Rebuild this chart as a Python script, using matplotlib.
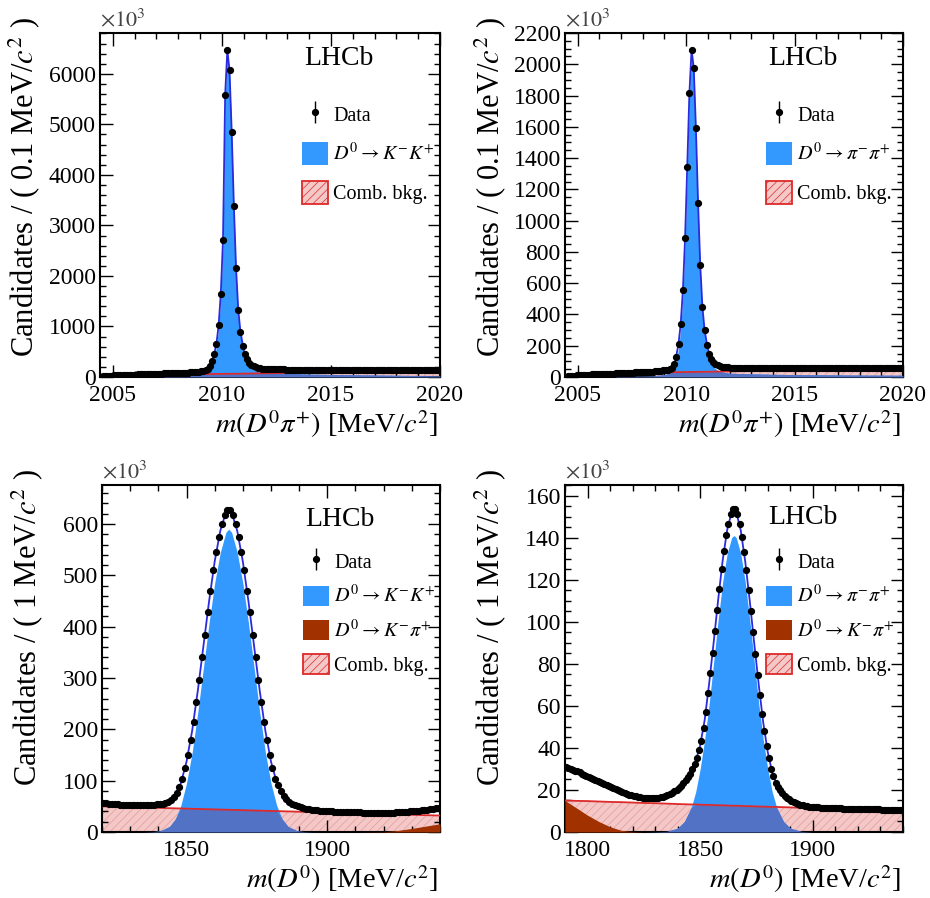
import numpy as np
import matplotlib
matplotlib.use('Agg')
import matplotlib.pyplot as plt
from matplotlib.patches import Patch
from matplotlib.ticker import MultipleLocator
from matplotlib.container import ErrorbarContainer
from matplotlib.legend_handler import HandlerErrorbar

plt.rcParams['font.family'] = ['Liberation Serif', 'DejaVu Serif']
plt.rcParams['mathtext.fontset'] = 'stix'
plt.rcParams['hatch.linewidth'] = 0.5

# ---------------- data (values in units of 10^3 per bin) ----------------
# D*+ -> D0 pi+ mass, 0.1 MeV bins starting at threshold
dst_bin_lo = 2004.4
dst_bin_w = 0.1

kk_dst_data = [
    5, 14, 19, 23, 26, 29,
    31, 33, 35, 37, 39, 41, 43, 44, 46, 48,
    49, 51, 52, 54, 55, 57, 58, 60, 61, 63,
    64, 66, 67, 69, 70, 72, 73, 75, 77, 78,
    80, 82, 84, 86, 88, 91, 94, 97, 101, 105,
    110, 118, 135, 165, 225, 320, 460, 660, 1020, 1650,
    2710, 5590, 6470, 6070, 4850, 3380, 2150, 1330, 900, 620,
    450, 350, 285, 240, 210, 192, 180, 172, 166, 162,
    159, 157, 156, 154, 153, 152, 151, 150, 149, 148,
    148, 147, 146, 146, 145, 145, 144, 144, 143, 143,
    143, 142, 142, 142, 142, 141, 141, 141, 141, 141,
    141, 141, 141, 141, 141, 141, 141, 141, 141, 141,
    141, 141, 141, 141, 142, 142, 142, 142, 142, 142,
    142, 142, 142, 142, 143, 143, 143, 143, 143, 143,
    143, 143, 143, 144, 144, 144, 144, 144, 144, 144,
    144, 145, 145, 145, 145, 145, 145, 146, 146, 146,
]

pipi_dst_data = [
    2, 5, 7, 8, 9, 10,
    11, 12, 13, 13, 14, 15, 16, 16, 17, 18,
    18, 19, 20, 20, 21, 22, 22, 23, 24, 24,
    25, 25, 26, 27, 27, 28, 29, 29, 30, 31,
    31, 32, 33, 34, 35, 36, 37, 38, 40, 42,
    44, 47, 52, 60, 80, 125, 214, 342, 556, 887,
    1346, 1816, 2094, 1977, 1592, 1111, 716, 449, 300, 205,
    150, 115, 95, 82, 74, 69, 66, 64, 62, 61,
    60, 60, 59, 59, 59, 58, 58, 58, 58, 58,
    58, 58, 57, 57, 57, 57, 57, 57, 57, 57,
    57, 57, 57, 57, 57, 57, 57, 57, 57, 57,
    57, 57, 57, 57, 57, 57, 57, 57, 57, 57,
    57, 57, 57, 57, 57, 57, 58, 58, 58, 58,
    58, 58, 58, 58, 58, 58, 58, 58, 58, 58,
    58, 58, 58, 58, 58, 58, 58, 58, 58, 58,
    58, 58, 58, 58, 59, 59, 59, 59, 59, 59,
]

dst_fit_x = [2004.41, 2004.5, 2004.7, 2005, 2006, 2007, 2008, 2008.5, 2009, 2009.3,
             2009.5, 2009.65, 2009.75, 2009.85, 2009.95, 2010.05, 2010.15, 2010.25,
             2010.35, 2010.45, 2010.55, 2010.65, 2010.75, 2010.85, 2011.0, 2011.2,
             2011.5, 2012, 2013, 2014, 2016, 2018, 2020]

kk_dst_total = [0, 10, 21, 30, 48, 63, 79, 89, 108, 150, 270, 460, 660, 1020, 1650,
                2710, 5590, 6470, 6070, 4850, 3380, 2150, 1330, 900, 530, 310, 200,
                160, 148, 143, 141, 143, 146]
kk_dst_comb = [0, 8, 15, 22, 33, 42, 50, 53, 56, 58, 59, 60, 60, 61, 61, 62, 62, 63,
               63, 64, 64, 65, 65, 66, 67, 68, 70, 74, 80, 86, 98, 110, 122]
kk_dst_sig = [0, 2, 6, 8, 15, 21, 29, 36, 52, 92, 211, 400, 600, 959, 1589, 2648, 5528,
              6407, 6007, 4786, 3316, 2085, 1265, 834, 463, 242, 130, 86, 68, 57, 43,
              33, 24]

pipi_dst_total = [0, 3, 7, 10, 18, 25, 31, 35, 44, 56, 100, 214, 342, 556, 887, 1346,
                  1816, 2094, 1977, 1592, 1111, 716, 449, 300, 178, 105, 72, 60, 58,
                  57, 57, 58, 59]
pipi_dst_comb = [0, 3, 6, 9, 15, 20, 25, 27, 29, 30, 31, 31, 31, 31, 32, 32, 32, 32,
                 32, 32, 33, 33, 33, 33, 33, 34, 35, 36, 38, 40, 43, 46, 48]
pipi_dst_sig = [0, 0, 1, 1, 3, 5, 6, 8, 15, 26, 69, 183, 311, 525, 855, 1314, 1784,
                2062, 1945, 1560, 1078, 683, 416, 267, 145, 71, 37, 24, 20, 17, 14,
                12, 11]

# D0 mass, 1 MeV bins
kk_d0_bin_lo = 1820
pipi_d0_bin_lo = 1790
d0_bin_w = 1.0

kk_d0_data = [
    56, 56, 55, 55, 54, 54, 53, 53, 53, 52,
    52, 52, 52, 52, 52, 52, 52, 53, 53, 54,
    54, 55, 56, 58, 62, 68, 76, 87, 103, 124,
    150, 180, 215, 254, 296, 340, 384, 428, 470, 510,
    545, 575, 600, 618, 628, 628, 618, 600, 575, 545,
    510, 470, 428, 384, 340, 296, 254, 215, 180, 150,
    124, 103, 92, 80, 71, 64, 59, 55, 52, 50,
    48, 46, 45, 44, 43, 42, 42, 41, 41, 40,
    40, 40, 39, 39, 39, 39, 38, 38, 38, 38,
    38, 38, 37, 37, 37, 37, 37, 37, 37, 37,
    37, 37, 37, 37, 38, 38, 38, 39, 39, 40,
    40, 41, 41, 42, 43, 43, 44, 45, 46, 47,
]

kk_d0_fit_x = [1820, 1825, 1830, 1835, 1838, 1841, 1844, 1846, 1848, 1850, 1852, 1854,
               1856, 1858, 1860, 1862, 1864, 1865, 1866, 1868, 1870, 1872, 1874, 1876,
               1878, 1880, 1882, 1884, 1886, 1889, 1892, 1895, 1900, 1910, 1920, 1925,
               1930, 1935, 1940]
kk_d0_total = [56, 54, 52.5, 52, 53, 54.5, 60, 72, 95, 137, 197, 275, 362, 449, 527,
               587, 623, 630, 623, 587, 527, 449, 362, 275, 197, 137, 97, 75, 61, 51,
               45, 42, 40, 38, 37, 38, 40, 43, 47]
kk_d0_sig = [0, 0, 0, 0.1, 0.7, 3, 11, 25, 52, 95, 155, 233, 320, 407, 485, 545, 584,
             590, 584, 545, 485, 407, 320, 233, 155, 95, 52, 25, 11, 3, 0.7, 0.1, 0,
             0, 0, 0, 0, 0, 0]
kk_d0_comb = [50, 49.3, 48.5, 47.8, 47.3, 46.9, 46.4, 46.1, 45.8, 45.5, 45.2, 44.9,
              44.6, 44.3, 44, 43.7, 43.4, 43.3, 43.1, 42.8, 42.5, 42.2, 41.9, 41.6,
              41.3, 41, 40.7, 40.4, 40.1, 39.7, 39.2, 38.8, 38, 36.5, 35, 34.3, 33.5,
              32.8, 32]
kk_d0_misid = [0] * 34 + [0.5, 3, 7, 11.5, 16]

pipi_d0_data = [
    30.7, 30.4, 30.0, 29.6, 29.2, 28.8, 28.3, 27.8, 27.3, 26.8,
    26.3, 25.8, 25.3, 24.8, 24.3, 23.8, 23.3, 22.8, 22.3, 21.8,
    21.3, 20.8, 20.3, 19.8, 19.4, 19.0, 18.6, 18.2, 17.8, 17.5,
    17.2, 16.9, 16.7, 16.5, 16.3, 16.2, 16.1, 16.0, 16.0, 16.0,
    16.1, 16.3, 16.5, 16.8, 17.2, 17.6, 18.1, 18.7, 19.4, 20.2,
    21.1, 22.1, 23.3, 24.6, 26.1, 27.8, 29.8, 32.2, 35.2, 39.0,
    43.5, 49.5, 57, 66, 75.5, 85, 95.5, 105.5, 115.5, 125,
    133.5, 141, 146.5, 151, 153.5, 153.5, 151, 146.5, 140.5, 133,
    124.5, 115, 105, 95, 84.5, 74.5, 65, 56, 48, 41,
    35, 30, 26.5, 23.5, 21.5, 20, 18.5, 17.3, 16.3, 15.5,
    14.8, 14.2, 13.7, 13.3, 13.0, 12.7, 12.5, 12.3, 12.1, 12.0,
    11.9, 11.8, 11.7, 11.6, 11.6, 11.5, 11.5, 11.4, 11.4, 11.3,
    11.3, 11.2, 11.2, 11.1, 11.1, 11.1, 11.0, 11.0, 11.0, 10.9,
    10.9, 10.9, 10.8, 10.8, 10.8, 10.8, 10.7, 10.7, 10.7, 10.7,
    10.6, 10.6, 10.6, 10.6, 10.6, 10.5, 10.5, 10.5, 10.5, 10.5,
]

pipi_d0_fit_x = [1790, 1795, 1800, 1805, 1810, 1815, 1820, 1825, 1830, 1835, 1840,
                 1843, 1846, 1848, 1850, 1852, 1854, 1856, 1858, 1860, 1862, 1864,
                 1865, 1866, 1868, 1870, 1872, 1874, 1876, 1878, 1880, 1882, 1884,
                 1887, 1890, 1895, 1900, 1910, 1920, 1930, 1940]
pipi_d0_total = [30.9, 28.6, 26.1, 23.6, 21.1, 18.8, 17.1, 16.2, 16.0, 17.0, 20.6,
                 24.0, 28.8, 33.7, 41.2, 53.2, 70.7, 90.2, 110.5, 129.2, 143.7, 152.2,
                 153.5, 152.2, 143.5, 128.7, 110, 89.7, 70, 52, 38, 28.2, 22.5, 17.9,
                 15.1, 12.8, 11.9, 11.3, 10.9, 10.6, 10.5]
pipi_d0_sig = [0, 0, 0, 0, 0, 0, 0, 0, 0.1, 0.3, 1.8, 5, 11.5, 19, 30, 44, 61, 81,
               101, 119, 132.5, 140, 141, 140, 132.5, 119, 101, 81, 61, 44, 30, 19,
               11.5, 5, 1.8, 0.3, 0, 0, 0, 0, 0]
pipi_d0_comb = [15, 14.8, 14.7, 14.5, 14.3, 14.2, 14.0, 13.8, 13.7, 13.5, 13.3, 13.2,
                13.1, 13.1, 13.0, 12.9, 12.9, 12.8, 12.7, 12.7, 12.6, 12.5, 12.5, 12.5,
                12.4, 12.3, 12.3, 12.2, 12.1, 12.1, 12.0, 11.9, 11.9, 11.8, 11.7, 11.5,
                11.3, 11.0, 10.7, 10.3, 10.0]
pipi_d0_misid = [15, 11.5, 8, 5, 2.5, 0.8, 0.2] + [0] * 34

# ---------------- style ----------------
BLUE = '#3399ff'
OVERLAP = '#5272c6'
PINK = '#f5c8c8'
HATCH = '#e49a9a'
RED = '#dd2a2a'
BROWN = '#a23100'
FITBLUE = '#2b2bdd'

eb_handler = {ErrorbarContainer: HandlerErrorbar(xerr_size=0.3, yerr_size=0.55)}


def draw_panel(ax, lo, width, data, fit_x, total, sig, comb, misid, sig_label,
               ymax, xlim, xmaj, xmin, ymaj, ymin, ylabel, xlabel, leg_anchor,
               leg_hh, leg_sp, lhcb_y):
    data = np.array(data, dtype=float)
    x = lo + width * (np.arange(len(data)) + 0.5)
    fx = np.array(fit_x)
    sig = np.array(sig, dtype=float)
    comb = np.array(comb, dtype=float)

    ax.fill_between(fx, 0, comb, facecolor=PINK, edgecolor=HATCH, lw=0,
                    hatch='////', zorder=1)
    ax.fill_between(fx, 0, sig, color=BLUE, lw=0, zorder=2)
    ax.fill_between(fx, 0, np.minimum(sig, comb), color=OVERLAP, lw=0, zorder=3)
    if misid is not None:
        ax.fill_between(fx, 0, misid, color=BROWN, lw=0, zorder=4)
    ax.plot(fx, comb, color=RED, lw=1.3, zorder=5)
    ax.plot(fx, total, color=FITBLUE, lw=1.3, zorder=6)
    eb = ax.errorbar(x, data, yerr=np.sqrt(data * 1e3) / 1e3, fmt='o', ms=4.2,
                     color='black', elinewidth=1, capsize=0, zorder=7)

    ax.set_xlim(*xlim)
    ax.set_ylim(0, ymax)
    ax.xaxis.set_major_locator(MultipleLocator(xmaj))
    ax.xaxis.set_minor_locator(MultipleLocator(xmin))
    ax.yaxis.set_major_locator(MultipleLocator(ymaj))
    ax.yaxis.set_minor_locator(MultipleLocator(ymin))
    ax.tick_params(which='both', direction='in', top=True, right=True, width=1)
    ax.tick_params(which='major', length=9)
    ax.tick_params(which='minor', length=4.5)
    ax.tick_params(axis='x', labelsize=17, pad=6)
    ax.tick_params(axis='y', labelsize=17, pad=3)
    for s in ax.spines.values():
        s.set_linewidth(1.5)

    ax.set_ylabel(ylabel, fontsize=22, loc='top')
    ax.yaxis.set_label_coords(-0.17, 1.045)
    ax.set_xlabel(xlabel, fontsize=20.5, loc='right')
    ax.xaxis.set_label_coords(0.995, -0.09)
    ax.text(0.0, 1.004, r'$\times10^{3}$', transform=ax.transAxes, fontsize=16,
            ha='left', va='bottom', color='#444444')
    ax.text(0.60, lhcb_y, 'LHCb', transform=ax.transAxes, fontsize=20,
            ha='left', va='center')

    handles = [eb, Patch(facecolor=BLUE, edgecolor='none')]
    labels = ['Data', sig_label]
    if misid is not None:
        handles.append(Patch(facecolor=BROWN, edgecolor='none'))
        labels.append(r'$D^0 \rightarrow K^{-}\pi^{+}$')
    handles.append(Patch(facecolor=PINK, edgecolor=RED, lw=1.3, hatch='////'))
    labels.append('Comb. bkg.')
    ax.legend(handles, labels, loc='upper left', bbox_to_anchor=leg_anchor,
              frameon=False, fontsize=14.5, handlelength=1.3, handleheight=leg_hh,
              labelspacing=leg_sp, handletextpad=0.25, borderpad=0, borderaxespad=0,
              handler_map=eb_handler)


fig = plt.figure(figsize=(9.3, 8.98), dpi=100)
ax_tl = fig.add_axes([0.1075, 0.5802, 0.3656, 0.3831])
ax_tr = fig.add_axes([0.6075, 0.5802, 0.3634, 0.3831])
ax_bl = fig.add_axes([0.1097, 0.0735, 0.3634, 0.3864])
ax_br = fig.add_axes([0.6075, 0.0735, 0.3634, 0.3864])

ylab_dst = r'Candidates / ( 0.1 MeV/$c^2$ )'
ylab_d0 = r'Candidates / ( 1 MeV/$c^2$ )'
xlab_dst = r'$m(D^0\pi^{+})$ [MeV/$c^2$]'
xlab_d0 = r'$m(D^0)$ [MeV/$c^2$]'
kk_label = r'$D^0 \rightarrow K^{-}K^{+}$'
pipi_label = r'$D^0 \rightarrow \pi^{-}\pi^{+}$'

draw_panel(ax_tl, dst_bin_lo, dst_bin_w, kk_dst_data, dst_fit_x, kk_dst_total,
           kk_dst_sig, kk_dst_comb, None, kk_label, 6810, (2004.41, 2020), 5, 1,
           1000, 200, ylab_dst, xlab_dst, (0.595, 0.797), 1.4, 0.78, 0.925)
draw_panel(ax_tr, dst_bin_lo, dst_bin_w, pipi_dst_data, dst_fit_x, pipi_dst_total,
           pipi_dst_sig, pipi_dst_comb, None, pipi_label, 2200, (2004.41, 2020), 5, 1,
           200, 50, ylab_dst, xlab_dst, (0.595, 0.797), 1.4, 0.78, 0.925)
draw_panel(ax_bl, kk_d0_bin_lo, d0_bin_w, kk_d0_data, kk_d0_fit_x, kk_d0_total,
           kk_d0_sig, kk_d0_comb, kk_d0_misid, kk_label, 676, (1820, 1940), 50, 10,
           100, 20, ylab_d0, xlab_d0, (0.595, 0.81), 1.15, 0.62, 0.9)
draw_panel(ax_br, pipi_d0_bin_lo, d0_bin_w, pipi_d0_data, pipi_d0_fit_x, pipi_d0_total,
           pipi_d0_sig, pipi_d0_comb, pipi_d0_misid, pipi_label, 165, (1790, 1940), 50, 10,
           20, 5, ylab_d0, xlab_d0, (0.595, 0.81), 1.15, 0.62, 0.905)

fig.savefig('out.png', dpi=100)
